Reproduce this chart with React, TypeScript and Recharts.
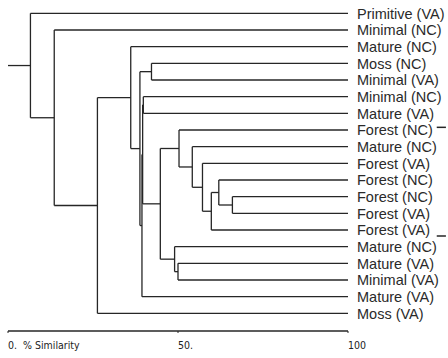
import { ComposedChart, XAxis, YAxis, ReferenceLine } from 'recharts';

// leaf labels, top to bottom
const leafLabels = [
  'Primitive (VA)',
  'Minimal (NC)',
  'Mature (NC)',
  'Moss (NC)',
  'Minimal (VA)',
  'Minimal (NC)',
  'Mature (VA)',
  'Forest (NC)',
  'Mature (NC)',
  'Forest (VA)',
  'Forest (NC)',
  'Forest (NC)',
  'Forest (VA)',
  'Forest (VA)',
  'Mature (NC)',
  'Mature (VA)',
  'Minimal (VA)',
  'Mature (VA)',
  'Moss (VA)',
];

// merges: node ids 0-18 are leaves, merge k creates node 19 + k
const leftChild = [11, 10, 20, 9, 8, 7, 15, 14, 24, 3, 5, 29, 30, 28, 2, 33, 1, 0];
const rightChild = [12, 19, 13, 21, 22, 23, 16, 25, 26, 4, 6, 27, 17, 31, 32, 18, 34, 35];
const similarity = [66.0, 62.0, 59.8, 57.2, 54.2, 50.3, 50.0, 49.0, 44.8, 42.2, 39.8, 39.6, 39.4, 38.8, 36.1, 26.3, 13.6, 6.6];

const xTicks = [0, 50, 100];
const xTickLabels = ['0.', '50.', '100'];
const axisTitle = '% Similarity';

// small stray marks at the right edge: [xStart, xEnd, y]
const sideMarks = [
  [126.1, 128.8, 6.84],
  [126.1, 128.8, 13.36],
];

type Pt = { x: number; y: number };

const nodeX: number[] = leafLabels.map(() => 100);
const nodeY: number[] = leafLabels.map((_, i) => i);
const segments: [Pt, Pt][] = [];
similarity.forEach((s, k) => {
  const a = leftChild[k];
  const b = rightChild[k];
  segments.push([{ x: s, y: nodeY[a] }, { x: s, y: nodeY[b] }]);
  segments.push([{ x: s, y: nodeY[a] }, { x: nodeX[a], y: nodeY[a] }]);
  segments.push([{ x: s, y: nodeY[b] }, { x: nodeX[b], y: nodeY[b] }]);
  nodeX.push(s);
  nodeY.push((nodeY[a] + nodeY[b]) / 2);
});
const rootY = nodeY[nodeY.length - 1];
const rootX = nodeX[nodeX.length - 1];
segments.push([{ x: 0, y: rootY }, { x: rootX, y: rootY }]);

const LINE = '#262626';
const narrow = "'Liberation Sans Narrow', 'DejaVu Sans Condensed', sans-serif";

const XTick = (props: any) => {
  const { x, y, payload } = props;
  const i = xTicks.indexOf(payload.value);
  return (
    <g>
      <text x={x} y={y + 16} textAnchor="start" fontSize={10.5} fontFamily={narrow} fill="#222">
        {xTickLabels[i]}
      </text>
      {i === 0 && (
        <text x={x + 15} y={y + 16} textAnchor="start" fontSize={10.5} fontFamily={narrow} fill="#222">
          {axisTitle}
        </text>
      )}
    </g>
  );
};

const YTick = (props: any) => {
  const { x, y, payload } = props;
  return (
    <text x={x} y={y} dy="0.36em" textAnchor="start" fontSize={14.5} fontFamily="'Liberation Sans', Arial, sans-serif" fill="#2a2a2a">
      {leafLabels[payload.value]}
    </text>
  );
};

export default function App() {
  return (
    <div style={{ position: 'absolute', left: 0, top: 0 }}>
      <ComposedChart width={448} height={358} margin={{ top: 0, right: 0, bottom: 0, left: 8 }}>
        <XAxis
          type="number"
          dataKey="x"
          domain={[0, 100]}
          ticks={xTicks}
          interval={0}
          height={27}
          allowDataOverflow
          axisLine={{ stroke: LINE, strokeWidth: 1.4 }}
          tickLine={{ stroke: LINE }}
          tickSize={2}
          tickMargin={0}
          tick={<XTick />}
        />
        <YAxis
          type="number"
          dataKey="y"
          orientation="right"
          domain={[-0.8, 19.06]}
          reversed
          allowDataOverflow
          ticks={leafLabels.map((_, i) => i)}
          interval={0}
          width={100}
          axisLine={false}
          tickLine={false}
          tickSize={0}
          tickMargin={9}
          tick={<YTick />}
        />
        {segments.map((seg, i) => (
          <ReferenceLine key={i} segment={seg} stroke={LINE} strokeWidth={1.3} ifOverflow="visible" />
        ))}
        {sideMarks.map(([x1, x2, y], i) => (
          <ReferenceLine
            key={'m' + i}
            segment={[{ x: x1, y }, { x: x2, y }]}
            stroke={LINE}
            strokeWidth={1.5}
            ifOverflow="visible"
          />
        ))}
      </ComposedChart>
    </div>
  );
}
